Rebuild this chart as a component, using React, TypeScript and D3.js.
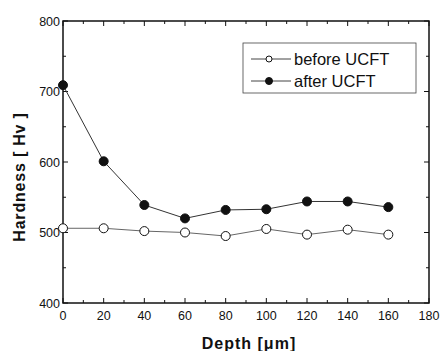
import { useEffect, useRef } from 'react';
import * as d3 from 'd3';

const depths = [0, 20, 40, 60, 80, 100, 120, 140, 160];
const beforeUCFT = [506, 506, 502, 500, 495, 505, 497, 504, 497];
const afterUCFT = [709, 601, 539, 520, 532, 533, 544, 544, 536];
const xTicks = [0, 20, 40, 60, 80, 100, 120, 140, 160, 180];
const yTicks = [400, 500, 600, 700, 800];
const seriesNames = ['before UCFT', 'after UCFT'];

const App = () => {
  const svgRef = useRef<SVGSVGElement>(null);

  useEffect(() => {
    const svg = d3.select(svgRef.current);
    svg.selectAll('*').remove();

    const left = 63, right = 429, top = 21, bottom = 303;
    const x = d3.scaleLinear().domain([0, 180]).range([left, right]);
    const y = d3.scaleLinear().domain([400, 800]).range([bottom, top]);
    const font = 'Arial, "Liberation Sans", sans-serif';

    // frame
    svg.append('rect')
      .attr('x', left).attr('y', top)
      .attr('width', right - left).attr('height', bottom - top)
      .attr('fill', 'none').attr('stroke', '#111').attr('stroke-width', 1.5);

    // ticks, inward, mirrored on top/right
    d3.range(0, 181, 10).forEach(v => {
      const len = v % 20 === 0 ? 5 : 3;
      svg.append('line').attr('x1', x(v)).attr('x2', x(v))
        .attr('y1', bottom).attr('y2', bottom - len).attr('stroke', '#111');
      svg.append('line').attr('x1', x(v)).attr('x2', x(v))
        .attr('y1', top).attr('y2', top + len).attr('stroke', '#111');
    });
    d3.range(400, 801, 50).forEach(v => {
      const len = v % 100 === 0 ? 5 : 3;
      svg.append('line').attr('x1', left).attr('x2', left + len)
        .attr('y1', y(v)).attr('y2', y(v)).attr('stroke', '#111');
      svg.append('line').attr('x1', right).attr('x2', right - len)
        .attr('y1', y(v)).attr('y2', y(v)).attr('stroke', '#111');
    });

    xTicks.forEach(v => {
      svg.append('text').attr('x', x(v)).attr('y', bottom + 17)
        .attr('text-anchor', 'middle').style('font-family', font)
        .style('font-size', '12.5px').style('fill', '#111').text(v);
    });
    yTicks.forEach(v => {
      svg.append('text').attr('x', left - 3).attr('y', y(v) + 4.5)
        .attr('text-anchor', 'end').style('font-family', font)
        .style('font-size', '12.5px').style('fill', '#111').text(v);
    });

    svg.append('text').attr('x', 249).attr('y', 349)
      .attr('text-anchor', 'middle').style('font-family', font)
      .style('font-size', '16px').style('font-weight', 'bold')
      .style('letter-spacing', '1px').style('fill', '#111')
      .text('Depth [μm]');
    svg.append('text')
      .attr('transform', `translate(25,177) rotate(-90)`)
      .attr('text-anchor', 'middle').style('font-family', font)
      .style('font-size', '16px').style('font-weight', 'bold')
      .style('letter-spacing', '0.8px').style('fill', '#111')
      .text('Hardness [ Hv ]');

    const line = d3.line<number>().x((_, i) => x(depths[i])).y(d => y(d));
    const series = [beforeUCFT, afterUCFT];
    series.forEach((vals, s) => {
      svg.append('path').datum(vals).attr('d', line)
        .attr('fill', 'none').attr('stroke', s === 0 ? '#666' : '#333').attr('stroke-width', 1);
      svg.selectAll(null).data(vals).enter().append('circle')
        .attr('cx', (_, i) => x(depths[i])).attr('cy', d => y(d)).attr('r', 4.5)
        .attr('fill', s === 0 ? '#fff' : '#111').attr('stroke', '#111').attr('stroke-width', 1);
    });

    // legend
    svg.append('rect').attr('x', 243).attr('y', 43).attr('width', 173).attr('height', 50)
      .attr('fill', '#fff').attr('stroke', '#444').attr('stroke-width', 0.8);
    seriesNames.forEach((name, s) => {
      const ly = 59 + s * 22;
      svg.append('line').attr('x1', 251).attr('x2', 291).attr('y1', ly).attr('y2', ly)
        .attr('stroke', '#444');
      svg.append('circle').attr('cx', 269).attr('cy', ly).attr('r', s === 0 ? 3 : 3.5)
        .attr('fill', s === 0 ? '#fff' : '#111').attr('stroke', '#111');
      svg.append('text').attr('x', 294).attr('y', ly + 6)
        .style('font-family', font).style('font-size', '16.5px').style('fill', '#111').text(name);
    });
  }, []);

  return (
    <svg ref={svgRef} width={440} height={351}
      style={{ position: 'absolute', left: 0, top: 0, background: '#fff' }} />
  );
};

export default App;
